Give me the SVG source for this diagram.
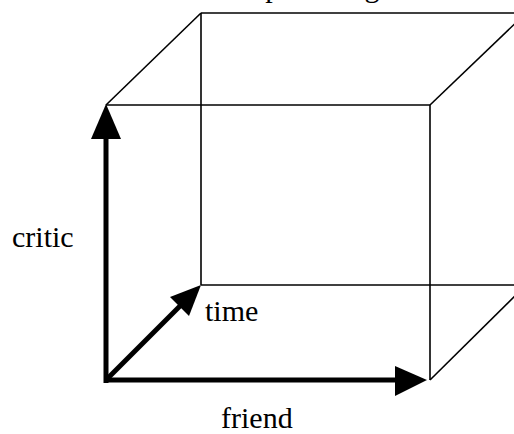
<svg xmlns="http://www.w3.org/2000/svg" width="514" height="434" viewBox="0 0 514 434">
<style>
.thin{stroke:#000;stroke-width:1.6;fill:none}
.thick{stroke:#000;stroke-width:5;fill:none}
.head{fill:#000}
.lbl{font-family:"Liberation Serif","Times New Roman",serif;font-size:30px;fill:#000}
</style>
<rect width="514" height="434" fill="#fff"/>
<text class="lbl" x="212" y="-3">Sample rating</text>
<g id="cube">
<line class="thin" x1="106" y1="105" x2="430" y2="105"/>
<line class="thin" x1="430" y1="105" x2="430" y2="380"/>
<line class="thin" x1="201" y1="13" x2="514" y2="13"/>
<line class="thin" x1="201" y1="13" x2="201" y2="285"/>
<line class="thin" x1="201" y1="285" x2="514" y2="285"/>
<line class="thin" x1="106" y1="105" x2="201" y2="13"/>
<line class="thin" x1="430" y1="105" x2="526" y2="13"/>
<line class="thin" x1="430" y1="380" x2="526" y2="285"/>
</g>
<g id="connectors">
<line class="thick" x1="106" y1="383" x2="106" y2="135"/>
<polygon class="head" points="106,104 91,139 121,139"/>
<line class="thick" x1="104" y1="380" x2="398" y2="380"/>
<polygon class="head" points="427,380 395,366 395,396"/>
<line class="thick" x1="106" y1="380" x2="180" y2="306"/>
<polygon class="head" points="201,285 170,297 189,316"/>
</g>
<g id="critic"><text class="lbl" x="12" y="247">critic</text></g>
<g id="time"><text class="lbl" x="205" y="321">time</text></g>
<g id="friend"><text class="lbl" x="221" y="428">friend</text></g>
</svg>
